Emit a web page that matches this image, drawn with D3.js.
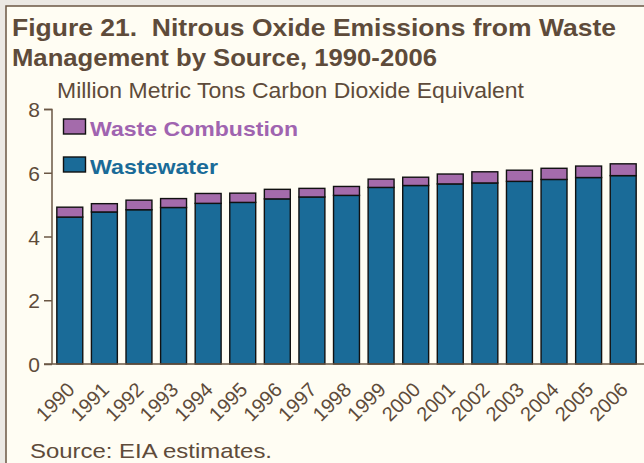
<!DOCTYPE html>
<html><head><meta charset="utf-8">
<script src="https://cdn.jsdelivr.net/npm/d3@7"></script>
<style>html,body{margin:0;padding:0;background:#ece9e4;}svg{display:block;font-family:"Liberation Sans",Arial,sans-serif;}text{white-space:pre;}</style>
</head><body>
<svg id="c" width="644" height="463"></svg>
<script>
const years = ["1990","1991","1992","1993","1994","1995","1996","1997","1998","1999","2000","2001","2002","2003","2004","2005","2006"];
const wastewater = [4.61,4.77,4.84,4.91,5.04,5.07,5.18,5.24,5.29,5.54,5.60,5.65,5.68,5.73,5.79,5.85,5.91];
const combustion = [0.31,0.26,0.30,0.28,0.31,0.29,0.30,0.27,0.28,0.26,0.26,0.31,0.35,0.35,0.35,0.36,0.37];
const yTicks = [0,2,4,6,8];
const seriesNames = ["Wastewater","Waste Combustion"];
const seriesColors = ["#1a6b98","#a46bab"];
const legendColors = ["#1a6b98","#a064b0"];

const svg = d3.select("#c");
const ink = "#5e4b3a";
svg.append("rect").attr("x",6).attr("y",6).attr("width",650).attr("height",470).attr("fill","#fffdf3").attr("stroke","#6b5744").attr("stroke-width",1.5);

function txt(xp,yp,size,weight,fill,str,len){
  const t = svg.append("text").attr("x",xp).attr("y",yp).attr("font-size",size).attr("font-weight",weight).attr("fill",fill).text(str);
  if(len) t.attr("textLength",len).attr("lengthAdjust","spacingAndGlyphs");
  return t;
}
txt(12,36,24,"bold",ink,"Figure 21.  Nitrous Oxide Emissions from Waste",604);
txt(12,66,24,"bold",ink,"Management by Source, 1990-2006",425);
txt(57,98,22,"normal",ink,"Million Metric Tons Carbon Dioxide Equivalent",467);

const x = d3.scaleBand().domain(years).range([52.5,640.5]).paddingInner(0.25).paddingOuter(0.125);
const y = d3.scaleLinear().domain([0,8]).range([364,109]);

const data = years.map((yr,i)=>({year:yr, Wastewater:wastewater[i], "Waste Combustion":combustion[i]}));
const stack = d3.stack().keys(seriesNames)(data);

svg.append("g").selectAll("g").data(stack).join("g")
  .attr("fill",(d,i)=>seriesColors[i])
  .selectAll("rect").data(d=>d).join("rect")
  .attr("x",d=>x(d.data.year)).attr("width",x.bandwidth())
  .attr("y",d=>y(d[1])).attr("height",d=>y(d[0])-y(d[1]))
  .attr("stroke","#111").attr("stroke-width",1.4);

// y axis
const ya = svg.append("g").attr("transform","translate(52,0)")
  .call(d3.axisLeft(y).tickValues(yTicks).tickSize(8).tickPadding(4).tickFormat(d3.format("d")));
ya.select(".domain").attr("stroke","#6b5744").attr("stroke-width",1.5).attr("d","M-8,109.5H0V364");
ya.selectAll(".tick line").attr("stroke","#6b5744").attr("stroke-width",1.5);
ya.selectAll(".tick text").attr("font-size",21).attr("fill",ink).attr("font-family","Liberation Sans, Arial, sans-serif").attr("dy","0.36em");

// x axis
const xa = svg.append("g").attr("transform","translate(0,364)")
  .call(d3.axisBottom(x).tickSize(0).tickPadding(0));
xa.select(".domain").attr("stroke","#6b5744").attr("stroke-width",1.5).attr("d","M44,0H644");
xa.selectAll(".tick text").attr("font-size",20).attr("fill",ink)
  .attr("font-family","Liberation Sans, Arial, sans-serif")
  .attr("text-anchor","end").attr("dy",null).attr("y",0)
  .attr("transform","translate(6,27) rotate(-45)");

// legend
const leg = [{name:"Waste Combustion",color:seriesColors[1],tc:legendColors[1],y:119,len:208},{name:"Wastewater",color:seriesColors[0],tc:legendColors[0],y:157,len:128}];
leg.forEach(l=>{
  svg.append("rect").attr("x",63.5).attr("y",l.y).attr("width",22).attr("height",15).attr("fill",l.color).attr("stroke","#111").attr("stroke-width",1.4);
  txt(90,l.y+17,20.5,"bold",l.tc,l.name,l.len);
});

txt(30,458,21,"normal",ink,"Source: EIA estimates.",242);
</script>
</body></html>
